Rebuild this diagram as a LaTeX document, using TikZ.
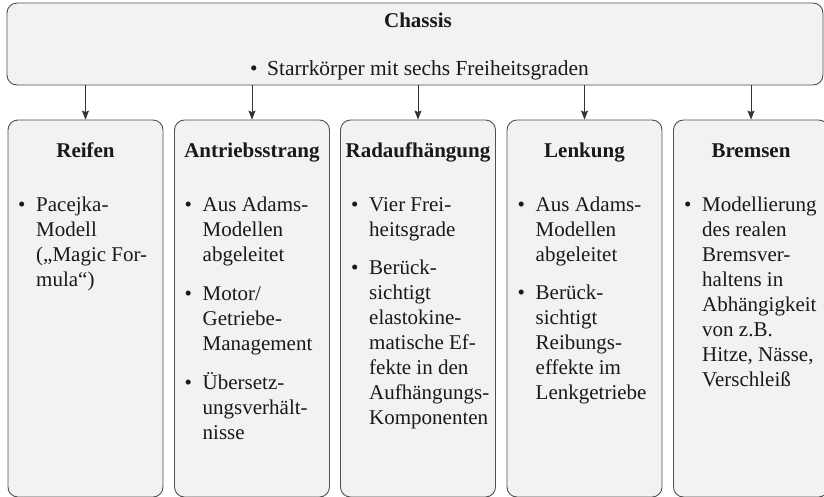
\documentclass[tikz,border=0pt]{standalone}
\usepackage{fontspec}
\setmainfont{Liberation Serif}
\usetikzlibrary{arrows.meta}
\definecolor{boxfill}{HTML}{F2F2F2}
\definecolor{boxline}{HTML}{505050}
\definecolor{arrline}{HTML}{333333}
\tikzset{
  box/.style={draw=boxline, fill=boxfill, rounded corners=10pt, line width=0.9pt, inner sep=0pt},
  conn/.style={draw=arrline, line width=0.8pt, -{Stealth[length=9pt,width=7pt,inset=1.5pt]}},
  ttl/.style={font=\fontsize{21}{25}\selectfont\bfseries, anchor=base, inner sep=0pt, text=black!90},
  body/.style={font=\fontsize{21}{25}\selectfont, anchor=north west, inner sep=0pt, text=black!90},
  lowbox/.style={box, minimum width=155pt, minimum height=377pt},
}
\newcommand\bl{\textbullet}
\begin{document}
\begin{tikzpicture}[x=1pt,y=-1pt]
\useasboundingbox (0,0) rectangle (824,496);
\begin{scope}
\clip (0,0) rectangle (824,496);
% Chassis
\node[box, minimum width=816pt, minimum height=82pt] (chassis) at (415,44) {};
\node[ttl] (chassisT) at (418,27) {Chassis};
\node[ttl, anchor=base west, font=\fontsize{21.4}{25}\selectfont] (chassisB) at (250,75) {\makebox[17pt][l]{\bl}Starrkörper mit sechs Freiheitsgraden};
% lower boxes
\node[lowbox] (reifen) at (85.5,308.5) {};
\node[lowbox] (antrieb) at (252,308.5) {};
\node[lowbox] (radauf) at (418,308.5) {};
\node[lowbox] (lenkung) at (584.5,308.5) {};
\node[lowbox] (bremsen) at (751,308.5) {};
% titles
\node[ttl] (reifenT) at (85.5,157) {Reifen};
\node[ttl] (antriebT) at (252,157) {Antriebsstrang};
\node[ttl] (radaufT) at (418,157) {Radaufhängung};
\node[ttl] (lenkungT) at (584.5,157) {Lenkung};
\node[ttl] (bremsenT) at (751,157) {Bremsen};
% bodies
\node[body] (reifenB) at (18,193.5) {\begin{tabular}{@{}p{18pt}@{}l@{}}
\bl & Pacejka-\\ & Modell\\ & („Magic For-\\ & mula“)\end{tabular}};
\node[body] (antriebB) at (184.5,193.5) {\begin{tabular}{@{}p{18pt}@{}l@{}}
\bl & Aus Adams-\\ & Modellen\\ & abgeleitet\\[14pt]
\bl & Motor/\\ & Getriebe-\\ & Management\\[14pt]
\bl & Übersetz-\\ & ungsverhält-\\ & nisse\end{tabular}};
\node[body] (radaufB) at (351,193.5) {\begin{tabular}{@{}p{18pt}@{}l@{}}
\bl & Vier Frei-\\ & heitsgrade\\[13pt]
\bl & Berück-\\ & sichtigt\\ & elastokine-\\ & matische Ef-\\ & fekte in den\\ & Aufhängungs-\\ & Komponenten\end{tabular}};
\node[body] (lenkungB) at (517.5,193.5) {\begin{tabular}{@{}p{18pt}@{}l@{}}
\bl & Aus Adams-\\ & Modellen\\ & abgeleitet\\[13pt]
\bl & Berück-\\ & sichtigt\\ & Reibungs-\\ & effekte im\\ & Lenkgetriebe\end{tabular}};
\node[body] (bremsenB) at (684,193.5) {\begin{tabular}{@{}p{18pt}@{}l@{}}
\bl & Modellierung\\ & des realen\\ & Bremsver-\\ & haltens in\\ & Abhängigkeit\\ & von z.B.\\ & Hitze, Nässe,\\ & Verschleiß\end{tabular}};
% connectors
\foreach \b in {reifen,antrieb,radauf,lenkung,bremsen}
  \draw[conn] (chassis.south -| \b.north) -- (\b.north);
\end{scope}
\end{tikzpicture}
\end{document}
